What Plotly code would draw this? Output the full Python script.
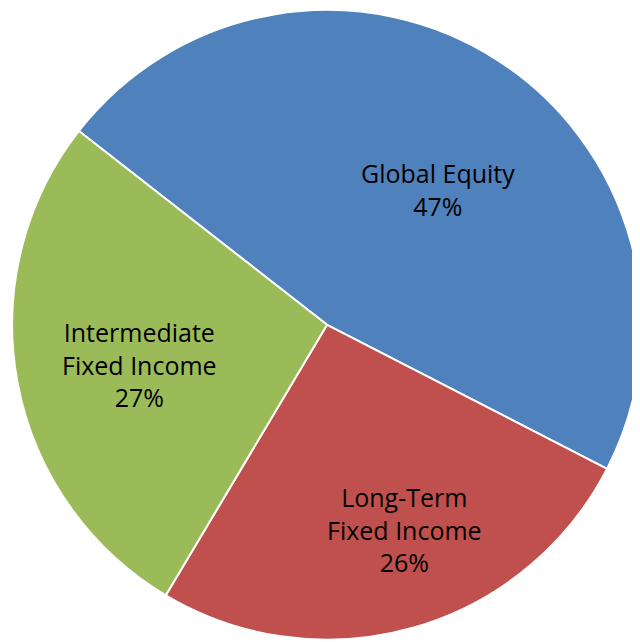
import plotly.graph_objects as go

# Asset allocation shares (percent)
labels = ['Global Equity', 'Long-Term<br>Fixed Income', 'Intermediate<br>Fixed Income']
values = [47, 26, 27]
colors = ['#4F81BD', '#C0504D', '#9BBB59']

# where each slice label sits (paper coords, "best fit" style placement)
label_pos = [(0.672, 0.717), (0.620, 0.187), (0.206, 0.444)]

fig = go.Figure()

# page body has an 8px margin, so the domain is nudged up/left to compensate
fig.add_trace(go.Pie(
    labels=labels,
    values=values,
    sort=False,
    direction='clockwise',
    rotation=-52,
    marker=dict(colors=colors, line=dict(color='white', width=2)),
    textinfo='none',
    hoverinfo='label+percent',
    domain=dict(x=[0.006, 0.991], y=[0.016, 0.997]),
))

total = sum(values)
for label, value, (x, y) in zip(labels, values, label_pos):
    fig.add_annotation(
        text=f'{label}<br>{value / total:.0%}',
        xref='paper', yref='paper',
        x=x, y=y,
        xanchor='center', yanchor='middle',
        showarrow=False,
        font=dict(family='Open Sans', size=25, color='black'),
    )

fig.update_layout(
    width=640,
    height=642,
    margin=dict(l=0, r=0, t=0, b=0),
    showlegend=False,
    paper_bgcolor='white',
)

fig.write_html("out.html")
